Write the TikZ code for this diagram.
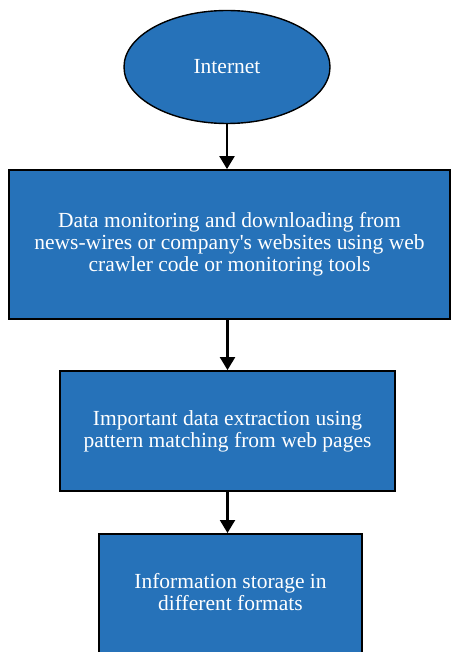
\documentclass[tikz,border=0pt]{standalone}
\usepackage{fontspec}
\setmainfont{Liberation Serif}[Ligatures=TeXOff]
\usetikzlibrary{arrows.meta,shapes.geometric}
\definecolor{stepblue}{RGB}{38,114,185}
\tikzset{
  flowbox/.style={draw=black, line width=1.8pt, fill=stepblue, rectangle,
    inner sep=0pt, text=white, align=center,
    font=\fontsize{21.5}{22}\selectfont},
  flowtext/.style={text=white, align=center, inner sep=0pt,
    font=\fontsize{21.5}{22}\selectfont},
  flowarrow/.style={line width=2.2pt, -{Triangle[length=13pt,width=15pt]}}
}
\begin{document}
\begin{tikzpicture}[x=1pt,y=-1pt]
  \useasboundingbox (0,0) rectangle (452,652);
  \clip (0,0) rectangle (452,652);
  % start node
  \node[ellipse, draw=black, line width=1.4pt, fill=stepblue, inner sep=0pt,
        minimum width=206pt, minimum height=113pt, text=white,
        font=\fontsize{21.5}{22}\selectfont] (net) at (227,67) {Internet};
  % process steps
  \node[flowbox, minimum width=441pt, minimum height=149pt] (crawl) at (229.5,244.5)
    {Data monitoring and downloading from\\news-wires or company's websites using web\\crawler code or monitoring tools};
  \node[flowbox, minimum width=335pt, minimum height=120pt] (extract) at (227.5,431)
    {Important data extraction using\\pattern matching from web pages};
  \node[flowbox, minimum width=263pt, minimum height=150pt, anchor=north] (store) at (230.5,533) {};
  \node[flowtext] (storetxt) at (230.5,592) {Information storage in\\different formats};
  % connectors
  \draw[flowarrow] (net.south) -- (net.south |- crawl.north);
  \draw[flowarrow] (crawl.south -| extract.north) -- (extract.north);
  \draw[flowarrow] (extract.south) -- (extract.south |- store.north);
\end{tikzpicture}
\end{document}
